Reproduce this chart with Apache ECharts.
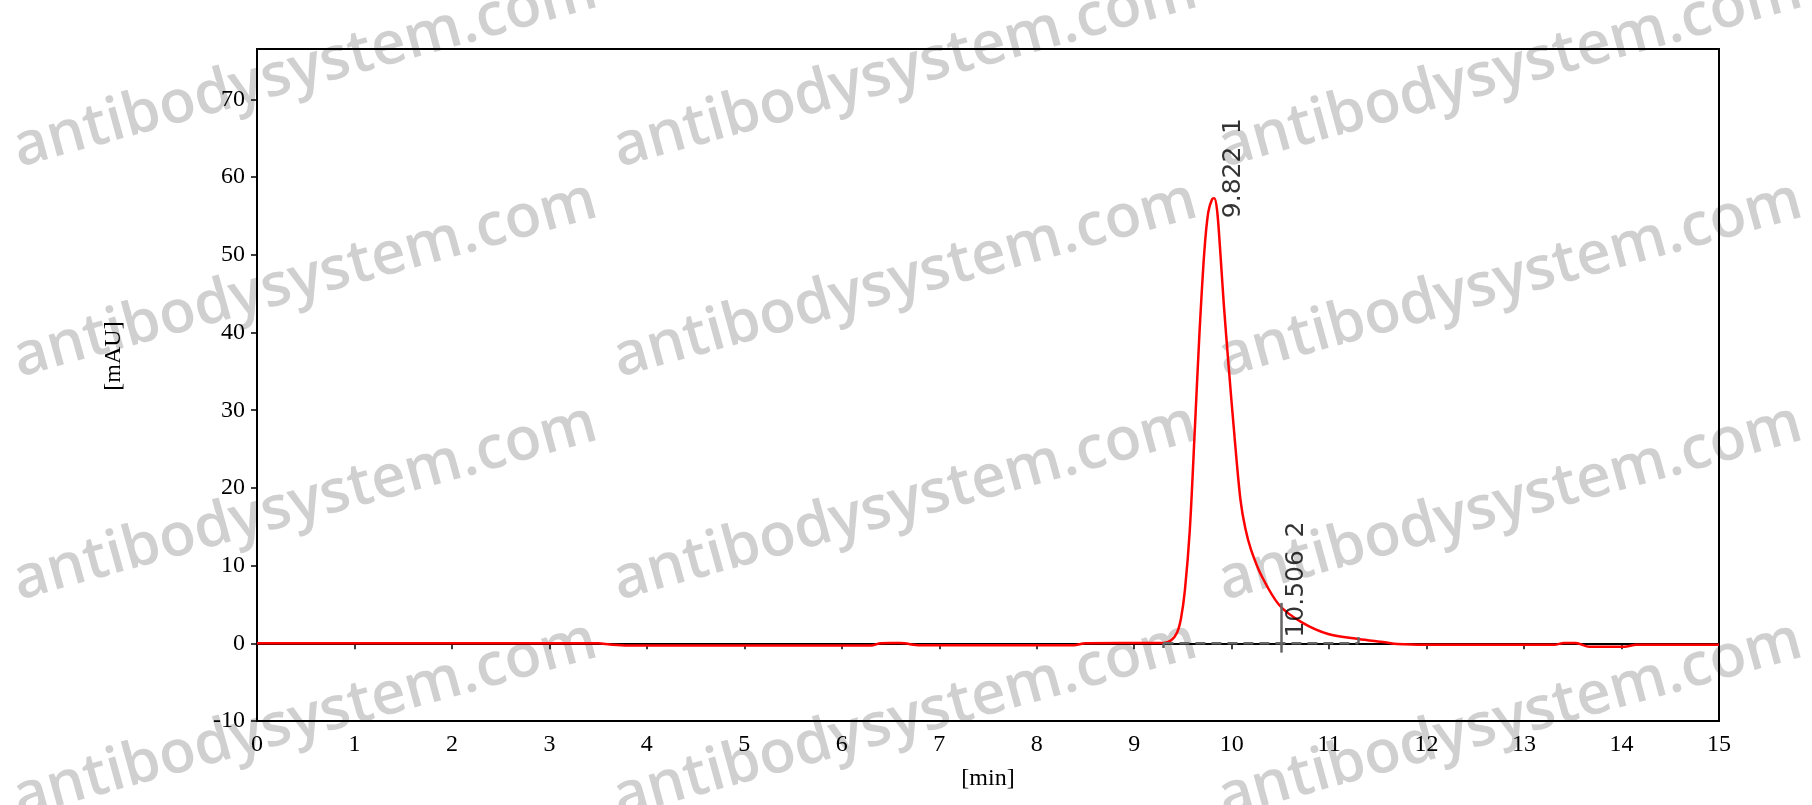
<!DOCTYPE html>
<html>
<head>
<meta charset="utf-8">
<script src="https://cdn.jsdelivr.net/npm/echarts@6/dist/echarts.min.js"></script>
<style>
  html, body { margin: 0; padding: 0; background: #fff; }
  #chart { width: 1812px; height: 805px; }
</style>
</head>
<body>
<div id="chart"></div>
<script>
// retention time (min) and absorbance (mAU)
const times = [0, 3.5, 3.62, 3.8, 6.3, 6.4, 6.6, 6.8, 8.38, 8.5, 9.3, 9.38, 9.44, 9.48, 9.52, 9.57,
  9.62, 9.67, 9.72, 9.76, 9.8, 9.822, 9.85, 9.88, 9.92, 9.97, 10.03, 10.09, 10.14, 10.2, 10.31, 10.49, 10.72,
  10.99, 11.3, 11.57, 11.7, 12.0, 13.31, 13.41, 13.53, 13.67, 14.03, 14.15, 15];
const signal = [0, 0, -0.15, -0.28, -0.28, 0.02, 0.03, -0.25, -0.25, 0.02, 0.05, 0.4, 1.4, 3.2, 6.8, 14.5,
  27, 40, 50.5, 55.5, 57.2, 57.3, 55.8, 51, 43.5, 35.5, 26.5, 18.5, 14.8, 12, 8.6, 4.9, 2.7,
  1.2, 0.55, 0.13, -0.1, -0.2, -0.2, 0.05, 0.05, -0.45, -0.45, -0.2, -0.2];

// integrated peaks
const peakTimes = [9.822, 10.506];
const peakHeights = [57.3, 4.6];
const peakLabels = ['9.822 1', '10.506 2'];

// integration baseline and its drop lines
const baseStart = 9.3;
const baseEnd = 11.3;
const baseLevel = 0;

const xTicks = { min: 0, max: 15, interval: 1 };
const yTicks = { min: -10, max: 76.5, interval: 10 };

const watermarkText = 'antibodysystem.com';
const watermarkSpots = [
  [305, 70], [905, 70], [1510, 70],
  [305, 280], [905, 280], [1510, 280],
  [305, 503], [905, 503], [1510, 503],
  [305, 720], [905, 720], [1510, 720]
];

const traceData = times.map((t, i) => [t, signal[i]]);
// label offsets are in pixels from the peak point
const labelOffsets = [[19, 20], [16, 30]];
const peakData = peakTimes.map((t, i) => ({
  value: [t, peakHeights[i]],
  name: peakLabels[i],
  label: { position: labelOffsets[i] }
}));

const chart = echarts.init(document.getElementById('chart'));

const serif = 'Liberation Serif';
const graphics = watermarkSpots.map(p => ({
  type: 'text',
  x: p[0], y: p[1],
  rotation: 0.27,
  z: -10,
  silent: true,
  style: {
    text: watermarkText,
    fill: '#d0d0d0',
    font: '600 60px "Open Sans"',
    align: 'center',
    verticalAlign: 'middle'
  }
}));
graphics.push({
  type: 'text',
  x: 114, y: 356,
  rotation: Math.PI / 2,
  style: {
    text: '[mAU]',
    fill: '#000',
    font: '24px "Liberation Serif"',
    align: 'center',
    verticalAlign: 'middle'
  }
});

const option = {
  backgroundColor: '#fff',
  animation: false,
  grid: {
    left: 257, right: 93, top: 49, bottom: 84,
    show: true,
    borderColor: '#000',
    borderWidth: 2,
    backgroundColor: 'transparent'
  },
  graphic: graphics,
  xAxis: {
    type: 'value',
    min: xTicks.min, max: xTicks.max, interval: xTicks.interval,
    name: '[min]',
    nameLocation: 'middle',
    nameGap: 46,
    nameTextStyle: { fontFamily: serif, fontSize: 24, color: '#000' },
    axisLine: { show: true, lineStyle: { color: '#000', width: 2 } },
    axisTick: { show: true, inside: false, length: 6, lineStyle: { color: '#000', width: 1.5 } },
    axisLabel: { fontFamily: serif, fontSize: 24, color: '#000', margin: 12 },
    splitLine: { show: false }
  },
  yAxis: {
    type: 'value',
    min: yTicks.min, max: yTicks.max, interval: yTicks.interval,
    axisLine: { show: true, lineStyle: { color: '#000', width: 2 } },
    axisTick: { show: true, inside: false, length: 6, lineStyle: { color: '#000', width: 1.5 } },
    axisLabel: { fontFamily: serif, fontSize: 24, color: '#000', margin: 12, showMaxLabel: false },
    splitLine: { show: false }
  },
  series: [
    {
      name: 'signal',
      type: 'line',
      data: traceData,
      symbol: 'none',
      smooth: 0.3,
      lineStyle: { color: '#ff0000', width: 2.5 },
      z: 3
    },
    {
      name: 'baseline',
      type: 'line',
      data: [[baseStart, baseLevel], [baseEnd, baseLevel]],
      symbol: 'none',
      lineStyle: { color: '#666666', width: 2.5, type: [10, 6] },
      z: 4,
      markLine: {
        silent: true,
        symbol: 'none',
        label: { show: false },
        lineStyle: { color: '#666666', width: 2.5, type: 'solid' },
        data: [
          [{ coord: [baseStart, baseLevel] }, { coord: [baseStart, -0.6] }],
          [{ coord: [peakTimes[1], -1.2] }, { coord: [peakTimes[1], 5.2] }],
          [{ coord: [baseEnd, baseLevel] }, { coord: [baseEnd, 0.8] }]
        ]
      }
    },
    {
      name: 'peaks',
      type: 'scatter',
      data: peakData,
      symbolSize: 0,
      z: 5,
      label: {
        show: true,
        formatter: p => p.name.replace(' ', '\u2002'),
        rotate: 90,
        align: 'left',
        verticalAlign: 'middle',
        fontFamily: 'DejaVu Sans',
        fontSize: 25,
        color: '#000'
      }
    }
  ]
};

chart.setOption(option);
</script>
</body>
</html>
